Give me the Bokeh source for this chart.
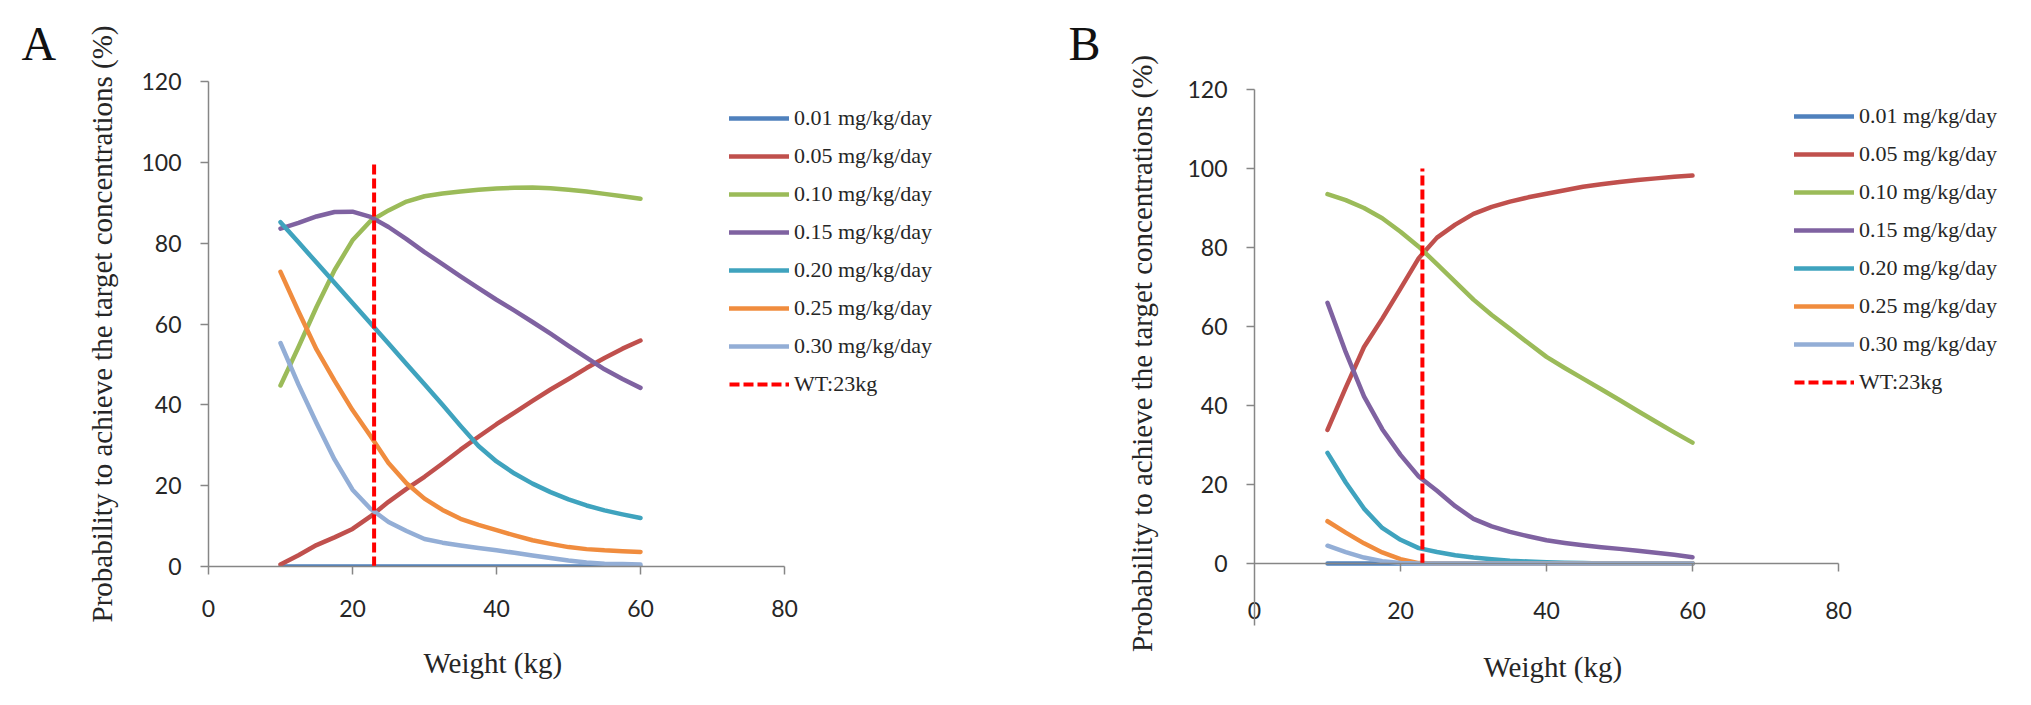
from bokeh.plotting import figure
from bokeh.layouts import row
from bokeh.models import Range1d, FixedTicker, Title
from bokeh.embed import file_html
from bokeh.resources import INLINE

# ---------------- data ----------------
weight = [10, 12.5, 15, 17.5, 20, 22.5, 25, 27.5, 30, 32.5, 35, 37.5, 40,
          42.5, 45, 47.5, 50, 52.5, 55, 57.5, 60]

dose_labels = ["0.01 mg/kg/day", "0.05 mg/kg/day", "0.10 mg/kg/day", "0.15 mg/kg/day",
               "0.20 mg/kg/day", "0.25 mg/kg/day", "0.30 mg/kg/day"]
colors = ["#4F81BD", "#C0504D", "#9BBB59", "#7F62A1", "#3FA3BE", "#F08C3E", "#93AED6"]

# Panel A
a_001 = [0] * 21
a_005 = [0.5, 2.8, 5.3, 7.2, 9.3, 12.4, 16.0, 19.2, 22.2, 25.5, 28.9, 32.1, 35.2,
         38.1, 41.0, 43.8, 46.4, 49.1, 51.6, 53.9, 55.9]
a_010 = [44.8, 54.3, 64.2, 73.3, 80.7, 85.5, 88.1, 90.3, 91.6, 92.3, 92.8, 93.2, 93.5,
         93.7, 93.8, 93.6, 93.2, 92.8, 92.2, 91.6, 91.0]
a_015 = [83.6, 85.0, 86.6, 87.7, 87.8, 86.5, 84.0, 81.0, 77.8, 74.8, 71.8, 68.9, 66.0,
         63.3, 60.5, 57.6, 54.6, 51.7, 48.8, 46.4, 44.2]
a_020 = [85.2, 80.2, 75.2, 70.2, 65.2, 60.2, 55.2, 50.1, 45.1, 40.0, 34.8, 29.8, 26.0,
         23.0, 20.5, 18.4, 16.6, 15.1, 13.9, 12.9, 12.0]
a_025 = [72.9, 63.1, 53.7, 46.0, 38.7, 32.3, 25.6, 20.6, 16.8, 14.0, 11.8, 10.3, 9.0,
         7.7, 6.5, 5.6, 4.8, 4.3, 4.0, 3.8, 3.6]
a_030 = [55.3, 45.0, 35.5, 26.5, 19.0, 14.3, 11.0, 8.8, 6.8, 5.9, 5.2, 4.6, 4.0,
         3.4, 2.7, 2.1, 1.5, 1.0, 0.7, 0.6, 0.5]

# Panel B
b_001 = [0] * 21
b_005 = [33.8, 44.5, 54.8, 62.0, 69.6, 77.3, 82.5, 85.8, 88.5, 90.3, 91.6, 92.7, 93.6,
         94.5, 95.4, 96.0, 96.6, 97.1, 97.5, 97.9, 98.2]
b_010 = [93.5, 92.0, 90.0, 87.4, 84.0, 80.2, 75.8, 71.3, 66.8, 62.9, 59.4, 55.8, 52.3,
         49.5, 46.8, 44.1, 41.4, 38.6, 35.9, 33.2, 30.6]
b_015 = [66.0, 53.5, 42.3, 34.0, 27.5, 22.0, 18.4, 14.5, 11.3, 9.4, 8.0, 6.9, 5.9,
         5.2, 4.6, 4.1, 3.7, 3.2, 2.7, 2.2, 1.6]
b_020 = [28.0, 20.5, 13.9, 9.0, 6.0, 3.9, 2.9, 2.1, 1.5, 1.1, 0.7, 0.5, 0.3,
         0.2, 0.1, 0, 0, 0, 0, 0, 0]
b_025 = [10.7, 7.8, 5.1, 2.8, 1.1, 0.1] + [0] * 15
b_030 = [4.5, 2.9, 1.5, 0.6, 0.1] + [0] * 16

series_a = [a_001, a_005, a_010, a_015, a_020, a_025, a_030]
series_b = [b_001, b_005, b_010, b_015, b_020, b_025, b_030]

wt_value = 23
wt_top = 100
wt_label = "WT:23kg"

x_ticks = [0, 20, 40, 60, 80]
y_ticks = [0, 20, 40, 60, 80, 100, 120]

y_title = "Probability to achieve the target concentrations (%)"
x_title = "Weight (kg)"

AXIS_GRAY = "#868686"
TXT = "#262626"
SERIF = "Liberation Serif"
SANS = "Lato"


def build(series, panel_letter, ymin, ymax, x_end, frame_w, frame_h, mb_left, mb_right,
          mb_top, mb_bottom, legend_xy, letter_offset, y_title_standoff, x_title_offset,
          x_title_standoff, x_label_standoff, b_style):
    p = figure(output_backend="svg", toolbar_location=None,
               frame_width=frame_w, frame_height=frame_h,
               min_border_left=mb_left, min_border_right=mb_right,
               min_border_top=mb_top, min_border_bottom=mb_bottom,
               x_range=Range1d(0, x_end), y_range=Range1d(ymin, ymax),
               background_fill_color="white", border_fill_color="white")
    p.outline_line_color = None
    p.grid.visible = False

    for vals, lab, col in zip(series, dose_labels, colors):
        p.line(weight, vals, line_width=4.5, line_color=col, line_cap="round",
               line_join="round", legend_label=lab)
    p.line([wt_value, wt_value], [0, wt_top], line_width=4, line_color="#FF0000",
           line_dash="10 4", legend_label=wt_label)

    # panel letter
    p.title.text = panel_letter
    p.title.text_font = SERIF
    p.title.text_font_size = "48px"
    p.title.text_font_style = "normal"
    p.title.text_color = "#111111"
    p.title.align = "left"
    p.title.offset = letter_offset
    p.title.standoff = 23

    # axes styling
    xa = p.xaxis[0]
    ya = p.yaxis[0]
    xa.ticker = FixedTicker(ticks=x_ticks)
    ya.ticker = FixedTicker(ticks=y_ticks)
    xa.bounds = (x_ticks[0], x_ticks[-1])
    ya.bounds = (ymin, y_ticks[-1])
    for ax in (xa, ya):
        ax.axis_line_color = AXIS_GRAY
        ax.axis_line_width = 1.5
        ax.major_tick_line_color = AXIS_GRAY
        ax.major_tick_line_width = 1.5
        ax.major_tick_in = 0
        ax.major_tick_out = 8
        ax.minor_tick_line_color = None
        ax.major_label_text_font = SANS
        ax.major_label_text_font_size = "23px"
        ax.major_label_text_color = TXT
        ax.axis_label_text_font = SERIF
        ax.axis_label_text_font_size = "29px"
        ax.axis_label_text_font_style = "normal"
        ax.axis_label_text_color = TXT
    ya.axis_label = y_title
    ya.major_label_standoff = 19
    ya.axis_label_standoff = y_title_standoff
    xa.major_label_standoff = x_label_standoff

    if b_style:
        # x axis drawn at y = 0 inside the frame; labels sit below it
        xa.axis_line_color = None
        xa.major_tick_line_color = None
        xa.major_tick_out = 0
        px_per_unit = frame_h / (ymax - ymin)
        p.segment(x0=[x_ticks[0]], y0=[0], x1=[x_ticks[-1]], y1=[0],
                  line_color=AXIS_GRAY, line_width=1.5)
        tk = [t for t in x_ticks if t > 0]
        p.segment(x0=tk, y0=[0] * len(tk), x1=tk, y1=[-8 / px_per_unit] * len(tk),
                  line_color=AXIS_GRAY, line_width=1.5)

    # x-axis title, centred under the 0-80 axis
    p.add_layout(Title(text=x_title, text_font=SERIF, text_font_size="29px",
                       text_font_style="normal", text_color=TXT, align="left",
                       offset=x_title_offset, standoff=x_title_standoff), "below")

    lg = p.legend[0]
    lg.location = legend_xy
    lg.border_line_color = None
    lg.background_fill_alpha = 0
    lg.padding = 0
    lg.margin = 0
    lg.spacing = 8
    lg.label_height = 30
    lg.glyph_height = 30
    lg.glyph_width = 60
    lg.label_standoff = 5
    lg.label_text_font = SERIF
    lg.label_text_font_size = "22px"
    lg.label_text_color = TXT
    return p


# A: 7.2 px per kg, frame 0..110 kg
pA = build(series_a, "A", 0, 120, 110, 792, 485, 208, 8, 81, 120,
           (521, 167), -187, 20, 215, 50, 25, False)
# B: 7.3 px per kg; frame top sits 8 px above the 120 level
b_px = 536 / 135.7
pB = build(series_b, "B", -15.7, 120 + 8 / b_px, 751 / 7.3, 751, 544, 246, 10, 81, 60,
           (540, 228), -186, 26, 229, 46, -24, True)

layout = row(pA, pB)
open("out.html", "w").write(file_html(layout, INLINE))
